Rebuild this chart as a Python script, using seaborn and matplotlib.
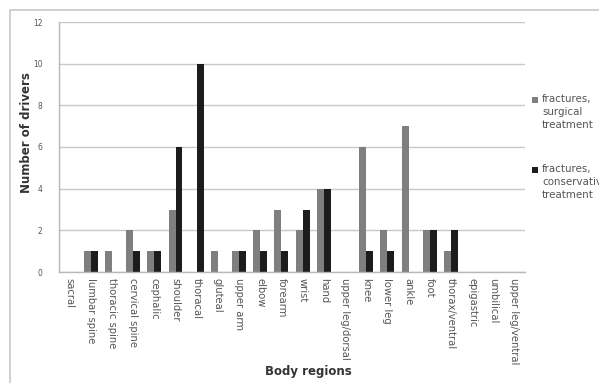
import matplotlib
matplotlib.use("Agg")
import matplotlib.pyplot as plt
import seaborn as sns
import pandas as pd
from matplotlib.patches import Rectangle
from matplotlib.ticker import FixedLocator

categories = ["sacral", "lumbar spine", "thoracic spine", "cervical spine", "cephalic",
              "shoulder", "thoracal", "gluteal", "upper arm", "elbow", "forearm", "wrist",
              "hand", "upper leg/dorsal", "knee", "lower leg", "ankle", "foot",
              "thorax/ventral", "epigastric", "umbilical", "upper leg/ventral"]
surgical = [0, 1, 1, 2, 1, 3, 0, 1, 1, 2, 3, 2, 4, 0, 6, 2, 7, 2, 1, 0, 0, 0]
conservative = [0, 1, 0, 1, 1, 6, 10, 0, 1, 1, 1, 3, 4, 0, 1, 1, 0, 2, 2, 0, 0, 0]
series_names = ["fractures,\nsurgical\ntreatment", "fractures,\nconservative\ntreatment"]
series_colors = ["#7f7f7f", "#1c1c1c"]
yticks = [0, 2, 4, 6, 8, 10, 12]

df = pd.DataFrame({
    "region": categories * 2,
    "value": surgical + conservative,
    "series": [series_names[0]] * len(categories) + [series_names[1]] * len(categories),
})

sns.set_style("white")
plt.rcParams['font.family'] = ['DejaVu Sans']

W, H = 599, 383
fig = plt.figure(figsize=(W / 100, H / 100), dpi=100)
ax = fig.add_axes([59 / W, 1 - 272 / H, 466 / W, 250 / H])

sns.barplot(data=df, x="region", y="value", hue="series", order=categories,
            hue_order=series_names, palette=series_colors,
            width=0.66, saturation=1, ax=ax, legend=False, edgecolor="none")

ax.set_ylim(0, 12)
ax.set_xlim(-0.5, len(categories) - 0.5)
ax.set_yticks(yticks)
ax.yaxis.grid(True, color="#c8c8c8", linewidth=1)
ax.set_axisbelow(True)
for s in ["top", "right"]:
    ax.spines[s].set_visible(False)
for s in ["bottom", "left"]:
    ax.spines[s].set_color("#b8b8b8")
    ax.spines[s].set_linewidth(1)

ax.set_xticks(range(len(categories)))
ax.set_xticklabels(categories, rotation=-90, fontsize=7.2, color="#555555")
ax.tick_params(axis="x", length=0, pad=4)
ax.xaxis.set_minor_locator(FixedLocator([i - 0.5 for i in range(len(categories) + 1)]))
ax.tick_params(axis="x", which="minor", length=4, color="#b8b8b8", width=1)
ax.tick_params(axis="y", length=3, color="#b8b8b8", width=1, labelsize=5.5,
               labelcolor="#555555", pad=9)

ax.set_xlabel("Body regions", fontsize=8.5, fontweight="bold", color="#333333")
ax.xaxis.set_label_coords(0.535, -0.372)
ax.set_ylabel("Number of drivers", fontsize=8.5, fontweight="bold", color="#333333")
ax.yaxis.set_label_coords(-0.056, 0.556)

# legend, drawn beside the plot with the marker at the first text line
leg_y = [100, 170]
for name, col, y in zip(series_names, series_colors, leg_y):
    fig.patches.append(Rectangle((532 / W, 1 - (y + 3) / H), 6 / W, 6 / H,
                                 transform=fig.transFigure, facecolor=col, edgecolor="none"))
    fig.text(542 / W, 1 - (y - 6) / H, name, fontsize=7.4, color="#555555",
             va="top", ha="left", linespacing=1.35)

fig.patches.append(Rectangle((10 / W, -0.05), 1.2, 1.05 - 10 / H, transform=fig.transFigure,
                             fill=False, edgecolor="#c8c8c8", linewidth=1.2))

fig.savefig("out.png", dpi=100, facecolor="white")
